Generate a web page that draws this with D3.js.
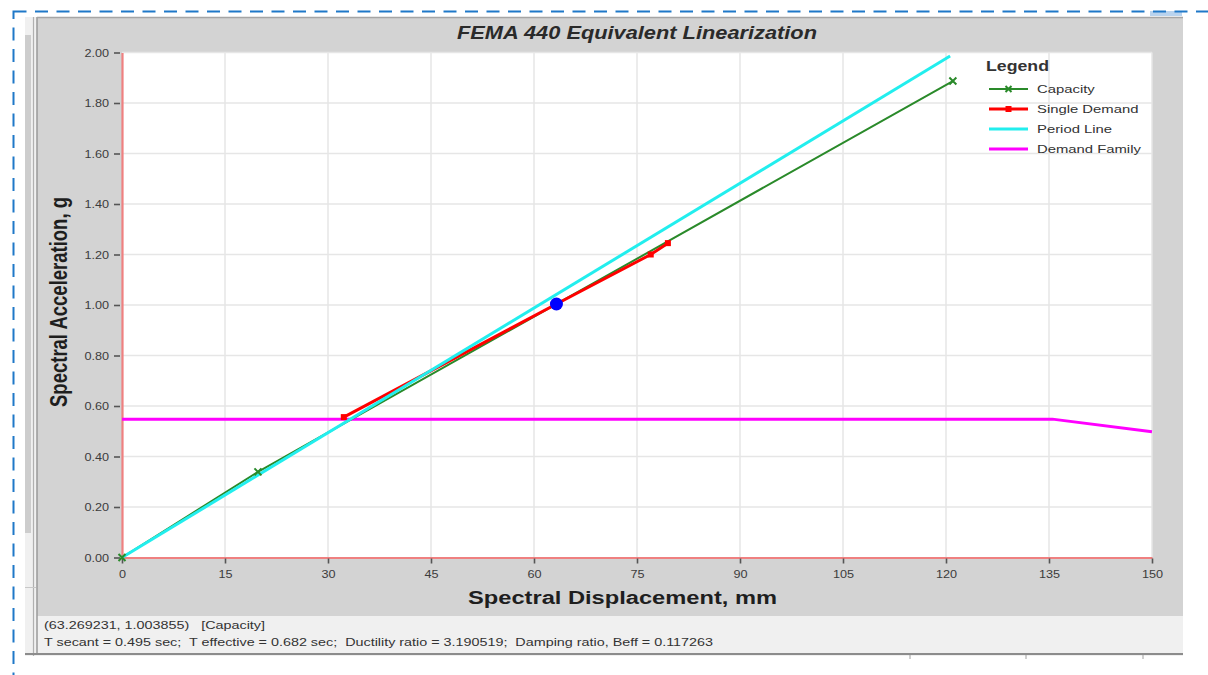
<!DOCTYPE html>
<html>
<head>
<meta charset="utf-8">
<script src="https://cdn.jsdelivr.net/npm/d3@7"></script>
<style>
  html, body { margin: 0; padding: 0; background: #ffffff; }
  svg { display: block; font-family: "Liberation Sans", Arial, sans-serif; }
</style>
</head>
<body>
<svg id="chart" width="1208" height="675"></svg>
<script>
// ---------- data ----------
const chartTitle = "FEMA 440 Equivalent Linearization";
const xLabel = "Spectral Displacement, mm";
const yLabel = "Spectral Acceleration, g";
const xTicks = [0, 15, 30, 45, 60, 75, 90, 105, 120, 135, 150];
const yTicks = [0, 0.2, 0.4, 0.6, 0.8, 1.0, 1.2, 1.4, 1.6, 1.8, 2.0];

const capacityX = [0, 19.8, 121.0];
const capacityY = [0, 0.339, 1.887];

const demandX = [32.3, 63.27, 77.0, 79.5];
const demandY = [0.556, 1.004, 1.200, 1.245];

const periodX = [0, 120.6];
const periodY = [0, 1.986];

const familyX = [0, 135.5, 150];
const familyY = [0.548, 0.548, 0.498];

const perfPoint = [63.269231, 1.003855];

const legendNames = ["Capacity", "Single Demand", "Period Line", "Demand Family"];
const statusLine1 = "(63.269231, 1.003855)   [Capacity]";
const statusLine2 = "T secant = 0.495 sec;  T effective = 0.682 sec;  Ductility ratio = 3.190519;  Damping ratio, Beff = 0.117263";

// ---------- drawing ----------
const svg = d3.select("#chart");
const zip = (xs, ys) => xs.map((v, i) => [v, ys[i]]);
// the reference screenshot is stretched horizontally: widen text glyphs to match
const stretch = (sel, factor) => {
  sel.each(function () {
    const w = this.getComputedTextLength();
    d3.select(this).attr("textLength", w * factor).attr("lengthAdjust", "spacingAndGlyphs");
  });
  return sel;
};
const fitTo = (sel, width) => sel.attr("textLength", width).attr("lengthAdjust", "spacingAndGlyphs");

const x = d3.scaleLinear().domain([0, 150]).range([122, 1152]);
const y = d3.scaleLinear().domain([0, 2]).range([557.5, 52.5]);

// window frame
svg.append("rect").attr("x", 25).attr("y", 17).attr("width", 1158).attr("height", 639).attr("fill", "#f0f0f0");
svg.append("rect").attr("x", 25).attr("y", 35).attr("width", 6).attr("height", 498).attr("fill", "#cdcdcd");
svg.append("line").attr("x1", 33.5).attr("x2", 33.5).attr("y1", 17).attr("y2", 656).attr("stroke", "#b0b0b0").attr("stroke-width", 1.2);
svg.append("line").attr("x1", 25).attr("x2", 36).attr("y1", 587.5).attr("y2", 587.5).attr("stroke", "#c8c8c8").attr("stroke-width", 1);
// chart panel
svg.append("rect").attr("x", 37).attr("y", 17).attr("width", 1146).attr("height", 599).attr("fill", "#d3d3d3");
svg.append("line").attr("x1", 37).attr("x2", 37).attr("y1", 17).attr("y2", 655).attr("stroke", "#9a9a9a").attr("stroke-width", 1.5);
svg.append("line").attr("x1", 37).attr("x2", 1183).attr("y1", 17.5).attr("y2", 17.5).attr("stroke", "#a5a5a5").attr("stroke-width", 1.5);
// status bar
svg.append("rect").attr("x", 38).attr("y", 616).attr("width", 1145).attr("height", 37).attr("fill", "#f0f0f0");
svg.append("line").attr("x1", 25).attr("x2", 1183).attr("y1", 654).attr("y2", 654).attr("stroke", "#8c8c8c").attr("stroke-width", 2);
[910, 1026, 1143].forEach(sx => {
  svg.append("line").attr("x1", sx).attr("x2", sx).attr("y1", 655).attr("y2", 659).attr("stroke", "#a0a0a0").attr("stroke-width", 1);
});
// small blue tab at top right
svg.append("rect").attr("x", 1150).attr("y", 11).attr("width", 32).attr("height", 5).attr("fill", "#b9d3ee");

// plot area
svg.append("rect").attr("x", x(0)).attr("y", y(2)).attr("width", x(150) - x(0)).attr("height", y(0) - y(2)).attr("fill", "#ffffff");

// grid
const grid = svg.append("g").attr("stroke", "#e6e6e6").attr("stroke-width", 1.5);
xTicks.filter(t => t > 0).forEach(t => {
  grid.append("line").attr("x1", x(t)).attr("x2", x(t)).attr("y1", y(2)).attr("y2", y(0));
});
yTicks.filter(t => t > 0).forEach(t => {
  grid.append("line").attr("x1", x(0)).attr("x2", x(150)).attr("y1", y(t)).attr("y2", y(t));
});

// axes
const xAxis = svg.append("g").attr("transform", `translate(0,${y(0)})`)
  .call(d3.axisBottom(x).tickValues(xTicks).tickSize(6).tickSizeOuter(0).tickPadding(7).tickFormat(d3.format("d")));
const yAxis = svg.append("g").attr("transform", `translate(${x(0)},0)`)
  .call(d3.axisLeft(y).tickValues(yTicks).tickSize(7).tickSizeOuter(0).tickPadding(6).tickFormat(d3.format(".2f")));
[xAxis, yAxis].forEach(a => {
  a.select(".domain").attr("stroke", "#ef8080").attr("stroke-width", 2.2);
  a.selectAll(".tick line").attr("stroke", "#555").attr("stroke-width", 1.6);
  a.selectAll(".tick text").attr("fill", "#3c3c3c").attr("font-size", 11).attr("font-family", "'Liberation Sans', Arial, sans-serif");
  stretch(a.selectAll(".tick text"), 1.15);
});
xAxis.selectAll(".tick line").attr("y1", 1);
yAxis.selectAll(".tick line").attr("x1", -2).attr("x2", -8);

// lines
const line = d3.line().x(d => x(d[0])).y(d => y(d[1]));
const plot = svg.append("g");
plot.append("path").datum(zip(familyX, familyY)).attr("d", line).attr("fill", "none").attr("stroke", "#ff00ff").attr("stroke-width", 3);
plot.append("path").datum(zip(capacityX, capacityY)).attr("d", line).attr("fill", "none").attr("stroke", "#2a8a2a").attr("stroke-width", 2);
plot.append("path").datum(zip(demandX, demandY)).attr("d", line).attr("fill", "none").attr("stroke", "#ff0000").attr("stroke-width", 3);
plot.append("path").datum(zip(periodX, periodY)).attr("d", line).attr("fill", "none").attr("stroke", "#22eeee").attr("stroke-width", 3);

// markers
const xMark = (g, cx, cy, s) => {
  g.append("path").attr("d", `M${cx - s},${cy - s}L${cx + s},${cy + s}M${cx - s},${cy + s}L${cx + s},${cy - s}`)
    .attr("stroke", "#2a8a2a").attr("stroke-width", 2).attr("fill", "none");
};
zip(capacityX, capacityY).forEach(d => xMark(plot, x(d[0]), y(d[1]), 3.5));
zip(demandX, demandY).filter((d, i) => i !== 1).forEach(d => {
  plot.append("rect").attr("x", x(d[0]) - 3).attr("y", y(d[1]) - 3).attr("width", 6).attr("height", 6).attr("fill", "#ff0000");
});
plot.append("circle").attr("cx", x(perfPoint[0])).attr("cy", y(perfPoint[1])).attr("r", 6.5).attr("fill", "#0000ff");

// title and axis labels
fitTo(svg.append("text").attr("x", 637).attr("y", 39).attr("text-anchor", "middle")
  .attr("font-size", 17.5).attr("font-weight", "bold").attr("font-style", "italic").attr("fill", "#2a2a2a").text(chartTitle), 360);
fitTo(svg.append("text").attr("x", 468).attr("y", 604).attr("text-anchor", "start")
  .attr("font-size", 18).attr("font-weight", "bold").attr("fill", "#1e1e1e").text(xLabel), 309);
svg.append("text").attr("transform", `translate(67,302) scale(1.28,1) rotate(-90)`).attr("text-anchor", "middle")
  .attr("font-size", 18.5).attr("font-weight", "bold").attr("fill", "#1e1e1e").text(yLabel);

// legend
const lg = svg.append("g");
fitTo(lg.append("text").attr("x", 986).attr("y", 71).attr("font-size", 14.5).attr("font-weight", "bold").attr("fill", "#333").text("Legend"), 63);
const legendColors = ["#2a8a2a", "#ff0000", "#22eeee", "#ff00ff"];
const legendWidths = [2, 3, 3, 3];
legendNames.forEach((name, i) => {
  const ly = 89 + i * 20;
  lg.append("line").attr("x1", 989).attr("x2", 1028).attr("y1", ly).attr("y2", ly)
    .attr("stroke", legendColors[i]).attr("stroke-width", legendWidths[i]);
  if (i === 0) xMark(lg, 1008.5, ly, 3);
  if (i === 1) lg.append("rect").attr("x", 1005.5).attr("y", ly - 3).attr("width", 6).attr("height", 6).attr("fill", "#ff0000");
  stretch(lg.append("text").attr("x", 1037).attr("y", ly + 4).attr("font-size", 11.5).attr("fill", "#333").text(name), 1.29);
});

// status bar texts
fitTo(svg.append("text").attr("x", 44).attr("y", 629).attr("font-size", 11).attr("fill", "#333").style("white-space", "pre").text(statusLine1), 221);
fitTo(svg.append("text").attr("x", 44).attr("y", 646).attr("font-size", 11).attr("fill", "#333").style("white-space", "pre").text(statusLine2), 669);

// dashed outer border
svg.append("rect").attr("x", 13.5).attr("y", 11.5).attr("width", 1300).attr("height", 800)
  .attr("fill", "none").attr("stroke", "#1f78c8").attr("stroke-width", 2).attr("stroke-dasharray", "13,8.5");
</script>
</body>
</html>
